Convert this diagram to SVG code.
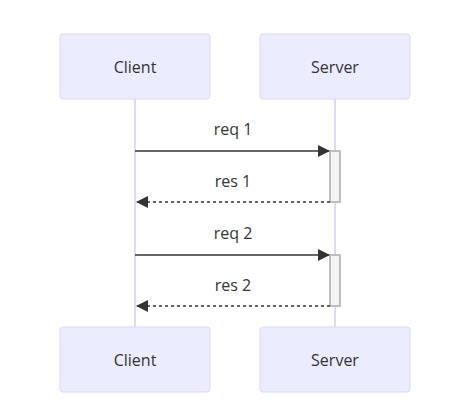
<svg xmlns="http://www.w3.org/2000/svg" width="472" height="420" viewBox="0 0 472 420">
<style>
.actor{fill:#ececff;stroke:#ddd6f6;stroke-width:1}
.life{stroke:#d6cdf3;stroke-width:1.5}
.atext{font-family:"Open Sans",sans-serif;font-size:16px;fill:#333;text-anchor:middle;dominant-baseline:central}
.mtext{font-family:"Open Sans",sans-serif;font-size:16px;fill:#333;text-anchor:middle;dominant-baseline:central}
.msg{stroke:#333;stroke-width:1.5;fill:none}
.dash{stroke-dasharray:3,3}
.act{fill:#f4f4f4;stroke:#aaa;stroke-width:1.5}
</style>
<defs>
<marker id="arrow" viewBox="0 0 12 12" refX="11" refY="6" markerWidth="12" markerHeight="12" markerUnits="userSpaceOnUse" orient="auto">
<path d="M0,0 L12,6 L0,12 z" fill="#333"/>
</marker>
</defs>
<rect width="472" height="420" fill="#fff"/>
<g id="lifelines">
<line class="life" x1="135" y1="99" x2="135" y2="327"/>
<line class="life" x1="335" y1="99" x2="335" y2="327"/>
</g>
<g id="client-top"><rect class="actor" x="60" y="34" width="150" height="65" rx="3"/><text class="atext" x="135" y="67">Client</text></g>
<g id="server-top"><rect class="actor" x="260" y="34" width="150" height="65" rx="3"/><text class="atext" x="335" y="67">Server</text></g>
<g id="client-bottom"><rect class="actor" x="60" y="327" width="150" height="65" rx="3"/><text class="atext" x="135" y="360">Client</text></g>
<g id="server-bottom"><rect class="actor" x="260" y="327" width="150" height="65" rx="3"/><text class="atext" x="335" y="360">Server</text></g>
<g id="activations">
<rect class="act" x="330" y="151" width="10" height="51"/>
<rect class="act" x="330" y="255" width="10" height="51"/>
</g>
<g id="connectors">
<line class="msg" x1="135" y1="151" x2="329" y2="151" marker-end="url(#arrow)"/>
<line class="msg dash" x1="330" y1="202" x2="137" y2="202" marker-end="url(#arrow)"/>
<line class="msg" x1="135" y1="255" x2="329" y2="255" marker-end="url(#arrow)"/>
<line class="msg dash" x1="330" y1="306" x2="137" y2="306" marker-end="url(#arrow)"/>
<text class="mtext" x="233" y="129">req 1</text>
<text class="mtext" x="233" y="181">res 1</text>
<text class="mtext" x="233" y="233">req 2</text>
<text class="mtext" x="233" y="285">res 2</text>
</g>
</svg>
